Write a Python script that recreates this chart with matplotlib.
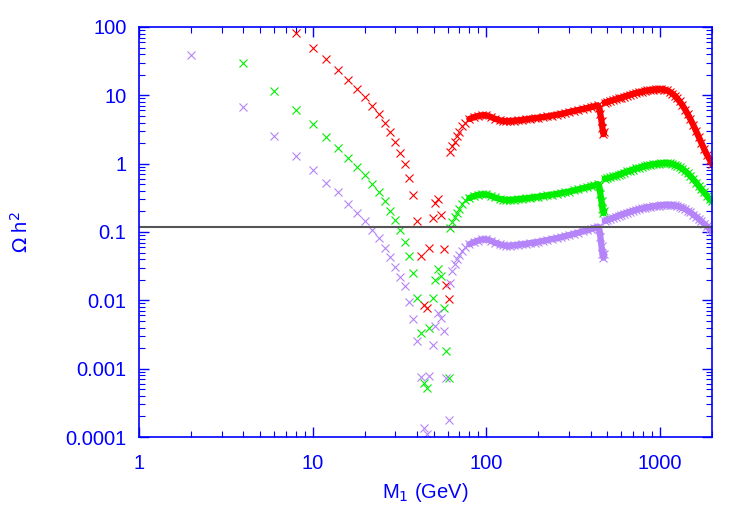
import numpy as np
import matplotlib
matplotlib.use("Agg")
import matplotlib.pyplot as plt
from matplotlib.ticker import LogLocator, FixedLocator, FixedFormatter, NullFormatter

plt.rcParams["font.family"] = ["Liberation Sans", "DejaVu Sans"]

nan = np.nan

# sparse points (low masses and the resonance dip)
m_sparse = [2, 4, 6, 8, 10, 12, 14, 16, 18, 20, 22, 24, 26, 28, 30, 32, 34, 36,
            38, 40, 42, 44, 45.5, 47, 49.5, 51, 52.5, 55, 57, 59, 61]

red_sparse = [nan, nan, nan, 81, 50, 33.7, 23.5, 16.7, 12.5, 9.3, 7.0, 5.3, 4.0,
              2.9, 2.07, 1.45, 0.98, 0.62, 0.35, 0.146, 0.044, 0.0085, 0.0077,
              0.059, 0.158, 0.27, 0.30, 0.177, 0.057, 0.017, 0.0103]

green_sparse = [nan, 30, 11.6, 6.1, 3.76, 2.48, 1.7, 1.22, 0.9, 0.68, 0.51, 0.38,
                0.28, 0.205, 0.148, 0.106, 0.072, 0.045, 0.025, 0.011, 0.0033,
                0.00062, 0.00053, 0.004, 0.0107, 0.020, 0.029, 0.023, 0.0078,
                0.0018, 0.00072]

purple_sparse = [39, 6.8, 2.5, 1.3, 0.8, 0.52, 0.38, 0.26, 0.19, 0.146, 0.107,
                 0.081, 0.059, 0.043, 0.031, 0.022, 0.016, 0.0096, 0.0054, 0.0025,
                 0.00076, 0.000135, 0.00011, 0.00079, 0.0022, 0.0042, 0.0065,
                 0.0055, 0.0036, 0.00072, 0.00018]

# dense branch (M1 > 60 GeV)
m_dense = [62, 64, 66, 68, 70, 73, 76, 80, 85, 90, 95, 100, 106, 112, 120, 125,
           130, 137, 145, 152, 160, 170, 180, 190, 200, 212, 225, 240, 255, 270,
           285, 300, 320, 340, 360, 380, 400, 420, 440, 448, 455, 462, 468, 474,
           478, 482, 500, 520, 540, 560, 580, 600, 625, 650, 675, 700, 730, 760,
           790, 820, 850, 880, 915, 950, 985, 1020, 1060, 1100, 1140, 1180, 1220,
           1260, 1300, 1350, 1400, 1450, 1500, 1560, 1620, 1680, 1740, 1800,
           1870, 1940, 2000]

red_dense = [1.5, 1.8, 2.1, 2.5, 2.9, 3.5, 4.0, 4.5, 4.8, 5.0, 5.1, 5.1, 4.85,
             4.55, 4.3, 4.2, 4.2, 4.2, 4.25, 4.3, 4.35, 4.45, 4.55, 4.62, 4.7,
             4.8, 4.9, 5.05, 5.2, 5.35, 5.5, 5.7, 5.9, 6.1, 6.3, 6.5, 6.7, 6.9,
             7.1, 6.6, 5.3, 4.2, 3.3, 2.7, 2.9, 7.8, 8.0, 8.3, 8.5, 8.75, 9.0,
             9.25, 9.6, 9.9, 10.2, 10.5, 10.8, 11.1, 11.35, 11.6, 11.8, 11.95,
             12.1, 12.2, 12.25, 12.25, 12.1, 11.8, 11.3, 10.6, 9.9, 9.0, 8.2, 7.2,
             6.2, 5.3, 4.5, 3.7, 3.0, 2.45, 2.0, 1.65, 1.35, 1.15, 1.0]

green_dense = [0.115, 0.14, 0.165, 0.19, 0.22, 0.26, 0.29, 0.315, 0.335, 0.35,
               0.355, 0.355, 0.34, 0.32, 0.305, 0.298, 0.295, 0.295, 0.298, 0.302,
               0.306, 0.31, 0.316, 0.322, 0.328, 0.335, 0.343, 0.352, 0.36, 0.37,
               0.38, 0.39, 0.405, 0.42, 0.435, 0.45, 0.465, 0.48, 0.5, 0.47, 0.36,
               0.28, 0.22, 0.19, 0.2, 0.6, 0.61, 0.63, 0.65, 0.67, 0.69, 0.71,
               0.74, 0.77, 0.79, 0.82, 0.85, 0.87, 0.9, 0.92, 0.94, 0.96, 0.98,
               0.99, 1.0, 1.01, 1.02, 1.02, 1.01, 0.99, 0.96, 0.93, 0.89, 0.84,
               0.78, 0.72, 0.66, 0.59, 0.53, 0.47, 0.42, 0.38, 0.34, 0.3, 0.28]

purple_dense = [0.018, 0.027, 0.034, 0.04, 0.046, 0.053, 0.06, 0.066, 0.071,
                0.075, 0.078, 0.078, 0.075, 0.07, 0.066, 0.064, 0.063, 0.063,
                0.064, 0.065, 0.066, 0.067, 0.069, 0.07, 0.072, 0.074, 0.076,
                0.079, 0.081, 0.084, 0.087, 0.09, 0.094, 0.098, 0.102, 0.106,
                0.11, 0.115, 0.12, 0.112, 0.085, 0.062, 0.048, 0.042, 0.048,
                0.145, 0.15, 0.156, 0.162, 0.168, 0.174, 0.18, 0.186, 0.192,
                0.198, 0.204, 0.21, 0.216, 0.221, 0.226, 0.23, 0.234, 0.238,
                0.241, 0.244, 0.246, 0.248, 0.249, 0.249, 0.248, 0.245, 0.241,
                0.235, 0.226, 0.216, 0.205, 0.194, 0.18, 0.167, 0.155, 0.143,
                0.132, 0.121, 0.111, 0.103]

omega_planck = 0.119

y_ticks = [0.0001, 0.001, 0.01, 0.1, 1, 10, 100]
y_tick_labels = ["0.0001", "0.001", "0.01", "0.1", "1", "10", "100"]
x_ticks = [1, 10, 100, 1000]
x_tick_labels = ["1", "10", "100", "1000"]

blue = "#0000ff"
series = [
    (red_sparse, red_dense, "#ff0000"),
    (green_sparse, green_dense, "#00ee00"),
    (purple_sparse, purple_dense, "#b484f8"),
]

m_dense_arr = np.array(m_dense)
# the scan is so dense above ~80 GeV that the crosses merge into a band
band_lo = (m_dense_arr >= 80) & (m_dense_arr < 480)
band_hi = m_dense_arr > 480

fig = plt.figure(figsize=(7.5, 5.25), dpi=100)
ax = fig.add_axes([0.1853, 0.1676, 0.7640, 0.7810])

for sparse, dense, color in series:
    dense = np.array(dense)
    ax.plot(m_sparse, sparse, linestyle="none", marker="x", color=color,
            markersize=5.5, markeredgewidth=0.8)
    ax.plot(m_dense_arr, dense, linestyle="none", marker="x", color=color,
            markersize=5.5, markeredgewidth=0.8)
    for part in [band_lo, band_hi]:
        ax.plot(m_dense_arr[part], dense[part], color=color, linewidth=4.5,
                solid_joinstyle="round", solid_capstyle="round")

ax.axhline(omega_planck, color="#555555", linewidth=1.5)

ax.set_xscale("log")
ax.set_yscale("log")
ax.set_xlim(1, 2000)
ax.set_ylim(0.0001, 100)

ax.xaxis.set_major_locator(FixedLocator(x_ticks))
ax.xaxis.set_major_formatter(FixedFormatter(x_tick_labels))
ax.xaxis.set_minor_locator(LogLocator(base=10, subs=np.arange(2, 10), numticks=20))
ax.xaxis.set_minor_formatter(NullFormatter())
ax.yaxis.set_major_locator(FixedLocator(y_ticks))
ax.yaxis.set_major_formatter(FixedFormatter(y_tick_labels))
ax.yaxis.set_minor_locator(LogLocator(base=10, subs=np.arange(2, 10), numticks=20))
ax.yaxis.set_minor_formatter(NullFormatter())

for side in ["left", "right", "top", "bottom"]:
    ax.spines[side].set_color(blue)
    ax.spines[side].set_linewidth(1.2)

ax.tick_params(which="both", direction="in", top=True, right=True,
               colors=blue, labelsize=14.5)
ax.tick_params(which="major", length=7, width=1)
ax.tick_params(which="minor", length=4, width=0.8)
ax.tick_params(axis="x", which="major", pad=12)
ax.tick_params(axis="y", which="major", pad=9)

ax.set_xlabel("M$_1$ (GeV)", color=blue, fontsize=14.5, labelpad=6)
ax.set_ylabel("$\\Omega$ h$^2$", color=blue, fontsize=14.5, labelpad=24)

plt.savefig("out.png", dpi=100)
